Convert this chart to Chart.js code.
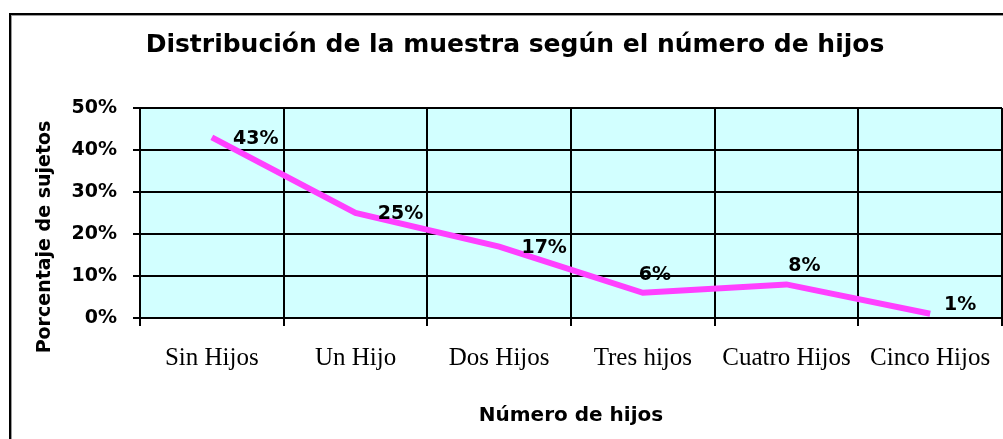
<!DOCTYPE html>
<html>
<head>
<meta charset="utf-8">
<script src="https://cdn.jsdelivr.net/npm/chart.js@4"></script>
<style>
  html, body { margin: 0; padding: 0; background: #fff; }
  #wrap { width: 1003px; height: 439px; }
</style>
</head>
<body>
<div id="wrap"><canvas id="hijosChart"></canvas></div>
<script>
// datos de la muestra
const categories = ['Sin Hijos', 'Un Hijo', 'Dos Hijos', 'Tres hijos', 'Cuatro Hijos', 'Cinco Hijos'];
const percentages = [43, 25, 17, 6, 8, 1];
const yTicks = [0, 10, 20, 30, 40, 50];

const chartTitle = 'Distribución de la muestra según el número de hijos';
const yTitle = 'Porcentaje de sujetos';

const boldSans = (size) => ({ family: 'DejaVu Sans', weight: 'bold', size: size });

// marco exterior, fondo del área de trazado, título y título del eje Y
const framePlugin = {
  id: 'frame',
  beforeDraw(chart) {
    const { ctx, chartArea } = chart;
    ctx.save();
    ctx.fillStyle = '#fff';
    ctx.fillRect(0, 0, chart.width, chart.height);
    ctx.strokeStyle = '#000';
    ctx.lineWidth = 2;
    ctx.strokeRect(10, 14, chart.width + 20, chart.height + 20);
    ctx.strokeStyle = '#9a9a9a';
    ctx.lineWidth = 1;
    ctx.strokeRect(11.5, 15.5, chart.width + 20, chart.height + 20);
    ctx.fillStyle = '#D2FFFF';
    ctx.fillRect(chartArea.left, chartArea.top, chartArea.right - chartArea.left, chartArea.bottom - chartArea.top);
    ctx.restore();
  },
  afterDraw(chart) {
    const { ctx } = chart;
    ctx.save();
    ctx.fillStyle = '#000';
    ctx.textAlign = 'center';
    ctx.textBaseline = 'middle';
    ctx.font = 'bold 25px "DejaVu Sans"';
    ctx.fillText(chartTitle, 515, 45);
    ctx.translate(45, 237);
    ctx.rotate(-Math.PI / 2);
    ctx.font = 'bold 19px "DejaVu Sans"';
    ctx.fillText(yTitle, 0, 0);
    ctx.restore();
  }
};

// etiquetas de valor (desplazamiento de cada etiqueta respecto al punto)
const labelShift = [[44, 2], [45, 1], [45, 1], [12, -18], [18, -18], [30, -9]];
const valueLabels = {
  id: 'valueLabels',
  afterDatasetsDraw(chart) {
    const { ctx } = chart;
    const meta = chart.getDatasetMeta(0);
    ctx.save();
    ctx.font = 'bold 19px "DejaVu Sans"';
    ctx.fillStyle = '#000';
    ctx.textAlign = 'center';
    ctx.textBaseline = 'middle';
    meta.data.forEach((pt, i) => {
      const [dx, dy] = labelShift[i];
      ctx.fillText(percentages[i] + '%', pt.x + dx, pt.y + dy);
    });
    ctx.restore();
  }
};

const ctx = document.getElementById('hijosChart').getContext('2d');
new Chart(ctx, {
  type: 'line',
  data: {
    labels: categories,
    datasets: [{
      data: percentages,
      borderColor: '#FF40FF',
      borderWidth: 6,
      pointRadius: 0,
      tension: 0,
      borderCapStyle: 'butt',
      borderJoinStyle: 'miter',
      fill: false
    }]
  },
  options: {
    responsive: true,
    maintainAspectRatio: false,
    animation: false,
    layout: { padding: { left: 0, right: 1, top: 108, bottom: 0 } },
    plugins: {
      legend: { display: false },
      tooltip: { enabled: false },
      title: { display: false }
    },
    scales: {
      x: {
        offset: true,
        grid: { offset: true, color: '#000', lineWidth: 2, tickLength: 8 },
        border: { color: '#000', width: 2 },
        ticks: {
          font: { family: 'Liberation Serif', size: 25 },
          color: '#000',
          padding: 17,
          maxRotation: 0,
          autoSkip: false
        },
        title: {
          display: true,
          text: 'Número de hijos',
          font: boldSans(20),
          color: '#000',
          padding: { top: 0, bottom: 11 }
        },
        afterFit: (scale) => {
          scale.height = 121;
          scale.paddingLeft = 0;
          scale.paddingRight = 0;
        }
      },
      y: {
        min: 0,
        max: 50,
        afterBuildTicks: (scale) => { scale.ticks = yTicks.map((v) => ({ value: v })); },
        grid: { color: '#000', lineWidth: 2, tickLength: 7 },
        border: { color: '#000', width: 2 },
        ticks: {
          callback: (v) => v + '%',
          font: boldSans(19),
          color: '#000',
          padding: 16
        },
        afterFit: (scale) => {
          scale.width = 140;
          scale.paddingTop = 0;
        }
      }
    }
  },
  plugins: [framePlugin, valueLabels]
});
</script>
</body>
</html>
